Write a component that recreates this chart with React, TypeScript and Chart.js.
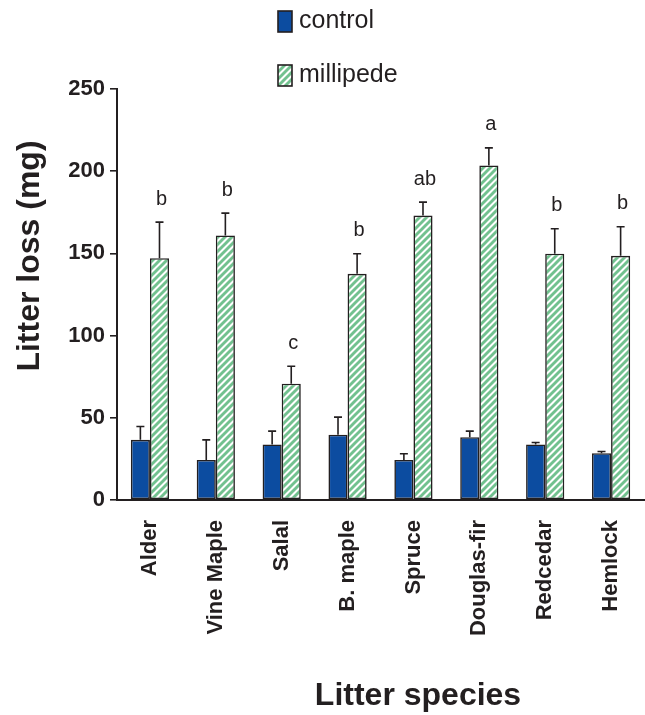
import React, { useEffect, useRef } from 'react';
import { Chart, registerables } from 'chart.js';

Chart.register(...registerables);

// Litter species on the x axis
const species = ['Alder', 'Vine Maple', 'Salal', 'B. maple', 'Spruce', 'Douglas-fir', 'Redcedar', 'Hemlock'];

// Mean litter loss (mg) and standard errors
const controlLoss = [36.6, 24.4, 33.8, 39.7, 24.4, 38.2, 33.8, 28.5];
const controlErr = [8.1, 12.2, 8.1, 10.7, 3.7, 3.7, 1.2, 1.0];
const millipedeLoss = [147.1, 160.9, 70.7, 137.6, 173.0, 203.5, 149.8, 148.5];
const millipedeErr = [21.9, 13.6, 10.7, 12.2, 8.2, 10.7, 15.2, 17.7];

// Significance groupings above the millipede bars
const groupLetters = ['b', 'b', 'c', 'b', 'ab', 'a', 'b', 'b'];

const yTicks = [0, 50, 100, 150, 200, 250];

const FONT = '"Liberation Sans", Arial, Helvetica, sans-serif';
const INK = '#231f20';
const BLUE = '#0c4ca0';
const STRIPE = '#72c18f';

function makeStripePattern(ctx: CanvasRenderingContext2D): CanvasPattern | string {
  const s = 7;
  const tile = document.createElement('canvas');
  tile.width = s;
  tile.height = s;
  const c = tile.getContext('2d');
  if (!c) return STRIPE;
  c.fillStyle = '#ffffff';
  c.fillRect(0, 0, s, s);
  c.strokeStyle = STRIPE;
  c.lineWidth = 2.9;
  c.beginPath();
  c.moveTo(-1, s + 1);
  c.lineTo(s + 1, -1);
  c.moveTo(-1, 1);
  c.lineTo(1, -1);
  c.moveTo(s - 1, s + 1);
  c.lineTo(s + 1, s - 1);
  c.stroke();
  return ctx.createPattern(tile, 'repeat') ?? STRIPE;
}

export default function App() {
  const canvasRef = useRef<HTMLCanvasElement | null>(null);

  useEffect(() => {
    const canvas = canvasRef.current;
    if (!canvas) return;
    const ctx = canvas.getContext('2d');
    if (!ctx) return;
    const stripes = makeStripePattern(ctx);
    const errors = [controlErr, millipedeErr];

    // Error bars and grouping letters
    const errorBars = {
      id: 'errorBars',
      afterDatasetsDraw(chart: Chart) {
        const c = chart.ctx;
        const yScale = chart.scales.y;
        c.save();
        c.strokeStyle = INK;
        c.lineWidth = 1.6;
        chart.data.datasets.forEach((ds, di) => {
          const meta = chart.getDatasetMeta(di);
          meta.data.forEach((bar: any, i: number) => {
            const v = ds.data[i] as number;
            const top = yScale.getPixelForValue(v + errors[di][i]);
            c.beginPath();
            c.moveTo(bar.x, bar.y);
            c.lineTo(bar.x, top);
            c.moveTo(bar.x - 4, top);
            c.lineTo(bar.x + 4, top);
            c.stroke();
            if (di === 1) {
              c.fillStyle = INK;
              c.font = `20px ${FONT}`;
              c.textAlign = 'center';
              c.textBaseline = 'middle';
              c.fillText(groupLetters[i], bar.x + 2, top - 23);
            }
          });
        });
        c.restore();
      },
    };

    // Stacked legend and axis titles
    const decorations = {
      id: 'decorations',
      afterDraw(chart: Chart) {
        const c = chart.ctx;
        const sets = chart.data.datasets;
        c.save();
        const rows = [
          { fill: BLUE, label: String(sets[0].label), y: 11 },
          { fill: stripes, label: String(sets[1].label), y: 65 },
        ];
        rows.forEach((r) => {
          c.fillStyle = r.fill as any;
          c.fillRect(278, r.y, 14, 21);
          c.strokeStyle = INK;
          c.lineWidth = 1.6;
          c.strokeRect(278, r.y, 14, 21);
          c.fillStyle = INK;
          c.font = `25px ${FONT}`;
          c.textAlign = 'left';
          c.textBaseline = 'alphabetic';
          c.fillText(r.label, 299, r.y + 17);
        });

        c.font = `bold 32px ${FONT}`;
        c.fillStyle = INK;
        c.textAlign = 'center';
        c.textBaseline = 'alphabetic';
        c.fillText('Litter species', 418, 705);

        c.translate(39, 256);
        c.rotate(-Math.PI / 2);
        c.fillText('Litter loss (mg)', 0, 0);
        c.restore();
      },
    };

    const chart = new Chart(canvas, {
      type: 'bar',
      data: {
        labels: species,
        datasets: [
          {
            label: 'control',
            data: controlLoss,
            backgroundColor: BLUE,
            borderColor: INK,
            borderWidth: 1.6,
            borderSkipped: false,
            categoryPercentage: 0.58,
            barPercentage: 1,
          },
          {
            label: 'millipede',
            data: millipedeLoss,
            backgroundColor: stripes as any,
            borderColor: INK,
            borderWidth: 1.6,
            borderSkipped: false,
            categoryPercentage: 0.58,
            barPercentage: 1,
          },
        ],
      },
      options: {
        responsive: false,
        animation: false,
        devicePixelRatio: 1,
        layout: { padding: { top: 89, right: 1, left: 0, bottom: 0 } },
        plugins: {
          legend: { display: false },
          tooltip: { enabled: false },
        },
        scales: {
          x: {
            grid: { display: false, drawTicks: false },
            border: { display: true, color: INK, width: 2 },
            ticks: {
              autoSkip: false,
              minRotation: 90,
              maxRotation: 90,
              padding: 20,
              color: INK,
              font: { family: FONT, size: 22, weight: 'bold' },
            },
            afterFit(scale: any) {
              scale.height = 215;
              scale.paddingLeft = 0;
              scale.paddingRight = 0;
            },
          },
          y: {
            min: 0,
            max: 250,
            afterBuildTicks(scale: any) {
              scale.ticks = yTicks.map((v) => ({ value: v }));
            },
            ticks: {
              padding: 5,
              color: INK,
              font: { family: FONT, size: 22, weight: 'bold' },
            },
            grid: { drawOnChartArea: false, drawTicks: true, tickLength: 7, color: INK, lineWidth: 1.6 },
            border: { display: true, color: INK, width: 2 },
            afterFit(scale: any) {
              scale.width = 117;
              scale.paddingTop = 0;
              scale.paddingBottom = 0;
            },
          },
        },
      },
      plugins: [errorBars, decorations],
    });

    return () => chart.destroy();
  }, []);

  return (
    <div style={{ position: 'absolute', left: 0, top: 0, width: 645, height: 715, background: '#ffffff' }}>
      <canvas ref={canvasRef} width={645} height={715} style={{ display: 'block' }} />
    </div>
  );
}
